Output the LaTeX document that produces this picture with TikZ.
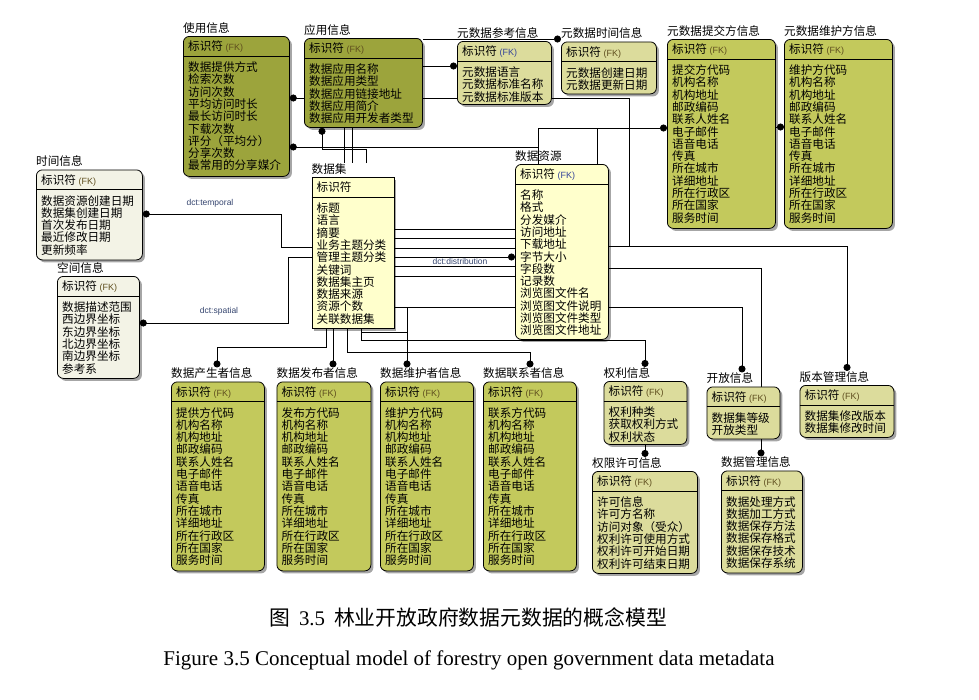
\documentclass[tikz,border=0pt]{standalone}
\usepackage{fontspec}
\setmainfont{Noto Sans CJK SC}
\newfontfamily\fkfont{Liberation Sans}
\newfontfamily\capfont{Liberation Serif}
\usetikzlibrary{positioning,calc,shadows,arrows.meta,backgrounds}

\definecolor{oliveD}{HTML}{9CA43C}
\definecolor{oliveM}{HTML}{C3C95C}
\definecolor{khaki}{HTML}{DCDC9C}
\definecolor{paleG}{HTML}{F3F3E6}
\definecolor{paleY}{HTML}{FFFFCC}
\definecolor{fkcol}{HTML}{5E4E1E}
\definecolor{fkblue}{HTML}{34449A}
\definecolor{dctcol}{HTML}{34446E}

\newcommand{\fk}[1]{{\fkfont\fontsize{9}{10}\selectfont\color{fkcol}#1}}
\newcommand{\fkb}[1]{{\fkfont\fontsize{9}{10}\selectfont\color{fkblue}#1}}

\tikzset{
  entbox/.style={draw=black, line width=0.8pt, rounded corners=6pt,
    drop shadow={shadow xshift=2.5pt, shadow yshift=-2.5pt, fill=black, opacity=0.35}},
  entD/.style={entbox, fill=oliveD},
  entM/.style={entbox, fill=oliveM},
  entK/.style={entbox, fill=khaki},
  entG/.style={entbox, fill=paleG},
  entY/.style={entbox, fill=paleY},
  entSq/.style={entbox, sharp corners, fill=paleY},
  enttxt/.style={anchor=base west, inner sep=0pt, font=\fontsize{11.6}{12.3}\selectfont},
  relline/.style={draw, line width=0.8pt, -{Circle[length=7pt]}},
  plainline/.style={draw, line width=0.8pt},
  dctlbl/.style={inner sep=0pt, text=dctcol, font=\fkfont\fontsize{8.5}{9}\selectfont},
}

% name, x, y, width, height, style, title, key, fields
\newcommand{\myEntity}[9]{
  \node[#6, minimum width=#4pt, minimum height=#5pt, anchor=north west] (#1) at (#2,#3) {};
  \node[enttxt] (#1-t) at ($(#1.north west)+(0,-4)$) {#7};
  \node[enttxt] (#1-k) at ($(#1.north west)+(5,14.5)$) {#8};
  \draw[line width=0.8pt] ($(#1.north west)+(0,20)$) -- ($(#1.north east)+(0,20)$);
  \foreach \f [count=\i] in {#9}
    \node[enttxt] at ($(#1.north west)+(5,{35.5+12.3*(\i-1)})$) {\f};
}

\begin{document}
\begin{tikzpicture}[x=1pt, y=-1pt]
  \useasboundingbox (0,0) rectangle (979,699);

  % top row
  \myEntity{syxx}{183}{36}{106}{140}{entD}{使用信息}{标识符 \fk{(FK)}}{数据提供方式,检索次数,访问次数,平均访问时长,最长访问时长,下载次数,评分（平均分）,分享次数,最常用的分享媒介}
  \myEntity{yyxx}{304}{38}{118}{89}{entD}{应用信息}{标识符 \fk{(FK)}}{数据应用名称,数据应用类型,数据应用链接地址,数据应用简介,数据应用开发者类型}
  \myEntity{ysjck}{457}{41}{94}{63}{entK}{元数据参考信息}{标识符 \fkb{(FK)}}{元数据语言,元数据标准名称,元数据标准版本}
  \myEntity{ysjsj}{561}{41.5}{95}{52}{entK}{元数据时间信息}{标识符 \fk{(FK)}}{元数据创建日期,元数据更新日期}
  \myEntity{tjf}{667}{39}{108}{189}{entM}{元数据提交方信息}{标识符 \fk{(FK)}}{提交方代码,机构名称,机构地址,邮政编码,联系人姓名,电子邮件,语音电话,传真,所在城市,详细地址,所在行政区,所在国家,服务时间}
  \myEntity{whf}{784}{39}{108}{189}{entM}{元数据维护方信息}{标识符 \fk{(FK)}}{维护方代码,机构名称,机构地址,邮政编码,联系人姓名,电子邮件,语音电话,传真,所在城市,详细地址,所在行政区,所在国家,服务时间}

  % middle
  \myEntity{sjxx}{36}{169.5}{106}{90}{entG}{时间信息}{标识符 \fk{(FK)}}{数据资源创建日期,数据集创建日期,首次发布日期,最近修改日期,更新频率}
  \myEntity{kjxx}{57}{276}{82}{102}{entG}{空间信息}{标识符 \fk{(FK)}}{数据描述范围,西边界坐标,东边界坐标,北边界坐标,南边界坐标,参考系}
  \myEntity{sjj}{311.5}{177}{82}{151}{entSq}{数据集}{标识符}{标题,语言,摘要,业务主题分类,管理主题分类,关键词,数据集主页,数据来源,资源个数,关联数据集}
  \myEntity{sjzy}{515}{164}{93}{175}{entY}{数据资源}{标识符 \fkb{(FK)}}{名称,格式,分发媒介,访问地址,下载地址,字节大小,字段数,记录数,浏览图文件名,浏览图文件说明,浏览图文件类型,浏览图文件地址}

  % bottom row
  \myEntity{csz}{171}{381.5}{93}{189}{entM}{数据产生者信息}{标识符 \fk{(FK)}}{提供方代码,机构名称,机构地址,邮政编码,联系人姓名,电子邮件,语音电话,传真,所在城市,详细地址,所在行政区,所在国家,服务时间}
  \myEntity{fbz}{276.5}{381.5}{94}{189}{entM}{数据发布者信息}{标识符 \fk{(FK)}}{发布方代码,机构名称,机构地址,邮政编码,联系人姓名,电子邮件,语音电话,传真,所在城市,详细地址,所在行政区,所在国家,服务时间}
  \myEntity{whz}{380}{381.5}{93}{189}{entM}{数据维护者信息}{标识符 \fk{(FK)}}{维护方代码,机构名称,机构地址,邮政编码,联系人姓名,电子邮件,语音电话,传真,所在城市,详细地址,所在行政区,所在国家,服务时间}
  \myEntity{lxz}{483}{381.5}{93}{189}{entM}{数据联系者信息}{标识符 \fk{(FK)}}{联系方代码,机构名称,机构地址,邮政编码,联系人姓名,电子邮件,语音电话,传真,所在城市,详细地址,所在行政区,所在国家,服务时间}
  \myEntity{qlxx}{603.5}{381}{83}{63}{entK}{权利信息}{标识符 \fk{(FK)}}{权利种类,获取权利方式,权利状态}
  \myEntity{qxxk}{592}{471}{105}{102}{entK}{权限许可信息}{标识符 \fk{(FK)}}{许可信息,许可方名称,访问对象（受众）,权利许可使用方式,权利许可开始日期,权利许可结束日期}
  \myEntity{kfxx}{706.5}{386.5}{73}{52}{entK}{开放信息}{标识符 \fk{(FK)}}{数据集等级,开放类型}
  \myEntity{sjgl}{721}{470.5}{81}{102}{entK}{数据管理信息}{标识符 \fk{(FK)}}{数据处理方式,数据加工方式,数据保存方法,数据保存格式,数据保存技术,数据保存系统}
  \myEntity{bbgl}{799.5}{385}{94}{52}{entK}{版本管理信息}{标识符 \fk{(FK)}}{数据集修改版本,数据集修改时间}

  % captions
  \node[font=\fontsize{20.8}{24}\selectfont] (capzh) at (468,617) {图\hspace{9pt}{\capfont 3.5}\hspace{9pt}林业开放政府数据元数据的概念模型};
  \node[font=\capfont\fontsize{21}{24}\selectfont] (capen) at (469,660) {Figure 3.5 Conceptual model of forestry open government data metadata};

  \begin{pgfonlayer}{background}
    % top connectors
    \draw[relline] (yyxx.west |- 0,98) -- (syxx.east |- 0,98);
    \draw[relline] (sjzy.north -| 538,0) -- (538,147) -- (syxx.east |- 0,147);
    \draw[relline] (sjzy.north -| 538,0) -- (538,128) -- (tjf.west |- 0,128);
    \draw[plainline] (sjzy.north -| 597,0) -- (597,128);
    \draw[relline] (tjf.east |- 0,127) -- (whf.west |- 0,127);
    \draw[relline] (yyxx.east |- 0,66) -- (ysjck.west |- 0,66);
    \draw[relline] (yyxx.east |- 0,39) -- (ysjsj.west |- 0,39);
    \draw[plainline] (yyxx.east |- 0,98) -- (629,98) -- (629,246);
    \draw[relline] (sjj-t.north -| 366,0) -- (366,149) -- (322,149) -- (yyxx.south -| 322,0);
    \draw[plainline] (yyxx.south -| 344,0) -- (sjj-t.north -| 344,0);
    \draw[plainline] (yyxx.south -| 352,0) -- (sjj-t.north -| 352,0);

    % left side
    \draw[relline] (sjj.west |- 0,247) -- (281,247) -- (281,214) -- (sjxx.east |- 0,214);
    \draw[relline] (sjj.west |- 0,257) -- (288,257) -- (288,323) -- (kjxx.east |- 0,323);

    % dataset to resource
    \foreach \yy in {229,238,248,266,276,307}
      \draw[plainline] (sjj.east |- 0,\yy) -- (sjzy.west |- 0,\yy);
    \draw[relline] (sjj.east |- 0,257) -- (sjzy.west |- 0,257);

    % right side
    \draw[relline] (sjzy.east |- 0,246) -- (847,246) -- (bbgl-t.north -| 847,0);
    \draw[relline] (sjzy.east |- 0,268) -- (761,268) -- (sjgl-t.north -| 761,0);
    \draw[relline] (sjzy.east |- 0,307) -- (742,307) -- (kfxx-t.north -| 742,0);
    \draw[relline] (qlxx.south -| 645,0) -- (qxxk-t.north -| 645,0);

    % bottom connectors
    \draw[relline] (sjj.south -| 326,0) -- (326,347) -- (217,347) -- (csz-t.north -| 217,0);
    \draw[relline] (sjj.south -| 333,0) -- (fbz-t.north -| 333,0);
    \draw[relline] (sjj.south -| 361,0) -- (361,332) -- (407,332) -- (whz-t.north -| 407,0);
    \draw[plainline] (sjj.east |- 0,307) -- (407,307) -- (407,332);
    \draw[relline] (sjj.south -| 347,0) -- (347,352) -- (530,352) -- (lxz-t.north -| 530,0);
    \draw[relline] (sjj.south -| 361,0) -- (361,340) -- (645,340) -- (qlxx-t.north -| 645,0);
  \end{pgfonlayer}

  \node[dctlbl] at (210,203) {dct:temporal};
  \node[dctlbl] at (219,311) {dct:spatial};
  \node[dctlbl] at (460,261) {dct:distribution};
\end{tikzpicture}
\end{document}
